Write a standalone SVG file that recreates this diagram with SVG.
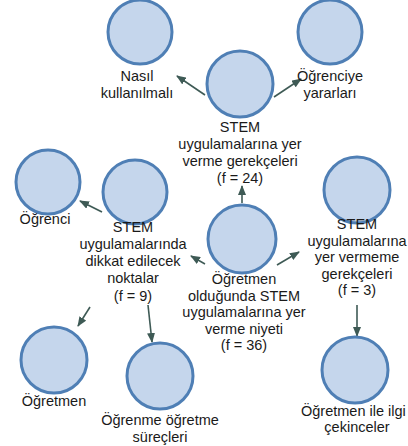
<svg xmlns="http://www.w3.org/2000/svg" width="408" height="446" viewBox="0 0 408 446">
  <style>
    .node circle { fill: #c5d6ec; stroke: #4f7fb5; stroke-width: 3; }
    .node text { font-family: "Liberation Sans", Arial, sans-serif; font-size: 14.5px; fill: #1a1a1a; text-anchor: middle; }
    .edges line { stroke: #3e5a55; stroke-width: 1.6; marker-end: url(#arrow); }
  </style>
  <defs>
    <marker id="arrow" markerUnits="userSpaceOnUse" markerWidth="10" markerHeight="8" refX="9" refY="4" orient="auto">
      <path d="M0,0 L10,4 L0,8 z" fill="#3e5a55"/>
    </marker>
  </defs>
  <rect width="408" height="446" fill="#ffffff"/>

  <!-- connectors -->
  <g class="edges">
    <line x1="205" y1="95" x2="177" y2="76"/>
    <line x1="274" y1="97" x2="301" y2="79"/>
    <line x1="242" y1="203" x2="242" y2="186"/>
    <line x1="205" y1="264" x2="191" y2="256"/>
    <line x1="277" y1="265" x2="299" y2="252"/>
    <line x1="357" y1="305" x2="357" y2="336"/>
    <line x1="102" y1="212" x2="80" y2="201"/>
    <line x1="90" y1="307" x2="78" y2="326"/>
    <line x1="148" y1="305" x2="152" y2="342"/>
  </g>

  <g id="nasil" class="node">
    <circle cx="140" cy="32" r="32"/>
    <text x="137" y="81">Nasıl</text>
    <text x="137" y="97.5">kullanılmalı</text>
  </g>
  <g id="ogrenciye" class="node">
    <circle cx="330" cy="32" r="32"/>
    <text x="330" y="81">Öğrenciye</text>
    <text x="330" y="97.5">yararları</text>
  </g>
  <g id="gerekceler" class="node">
    <circle cx="240" cy="84" r="33"/>
    <text x="240" y="132">STEM</text>
    <text x="240" y="149">uygulamalarına yer</text>
    <text x="240" y="166">verme gerekçeleri</text>
    <text x="240" y="183">(f = 24)</text>
  </g>
  <g id="ogrenci" class="node">
    <circle cx="48" cy="182" r="32"/>
    <text x="45" y="224">Öğrenci</text>
  </g>
  <g id="dikkat" class="node">
    <circle cx="135" cy="192" r="32"/>
    <text x="133" y="232">STEM</text>
    <text x="133" y="249">uygulamalarında</text>
    <text x="133" y="266">dikkat edilecek</text>
    <text x="133" y="283">noktalar</text>
    <text x="133" y="301">(f = 9)</text>
  </g>
  <g id="vermeme" class="node">
    <circle cx="357" cy="190" r="33"/>
    <text x="357" y="229">STEM</text>
    <text x="357" y="245.5">uygulamalarına</text>
    <text x="357" y="262">yer vermeme</text>
    <text x="357" y="278.5">gerekçeleri</text>
    <text x="357" y="295">(f = 3)</text>
  </g>
  <g id="niyet" class="node">
    <circle cx="242" cy="239" r="34"/>
    <text x="244" y="284">Öğretmen</text>
    <text x="244" y="300.5">olduğunda STEM</text>
    <text x="244" y="317">uygulamalarına yer</text>
    <text x="244" y="333.5">verme niyeti</text>
    <text x="244" y="350">(f = 36)</text>
  </g>
  <g id="ogretmen" class="node">
    <circle cx="54" cy="360" r="33"/>
    <text x="54" y="406">Öğretmen</text>
  </g>
  <g id="surecler" class="node">
    <circle cx="160" cy="376" r="33"/>
    <text x="160" y="425">Öğrenme öğretme</text>
    <text x="160" y="442">süreçleri</text>
  </g>
  <g id="cekinceler" class="node">
    <circle cx="355" cy="370" r="33"/>
    <text x="301" y="415.5" style="text-anchor:start">Öğretmen ile ilgi</text>
    <text x="357" y="432">çekinceler</text>
  </g>
</svg>
